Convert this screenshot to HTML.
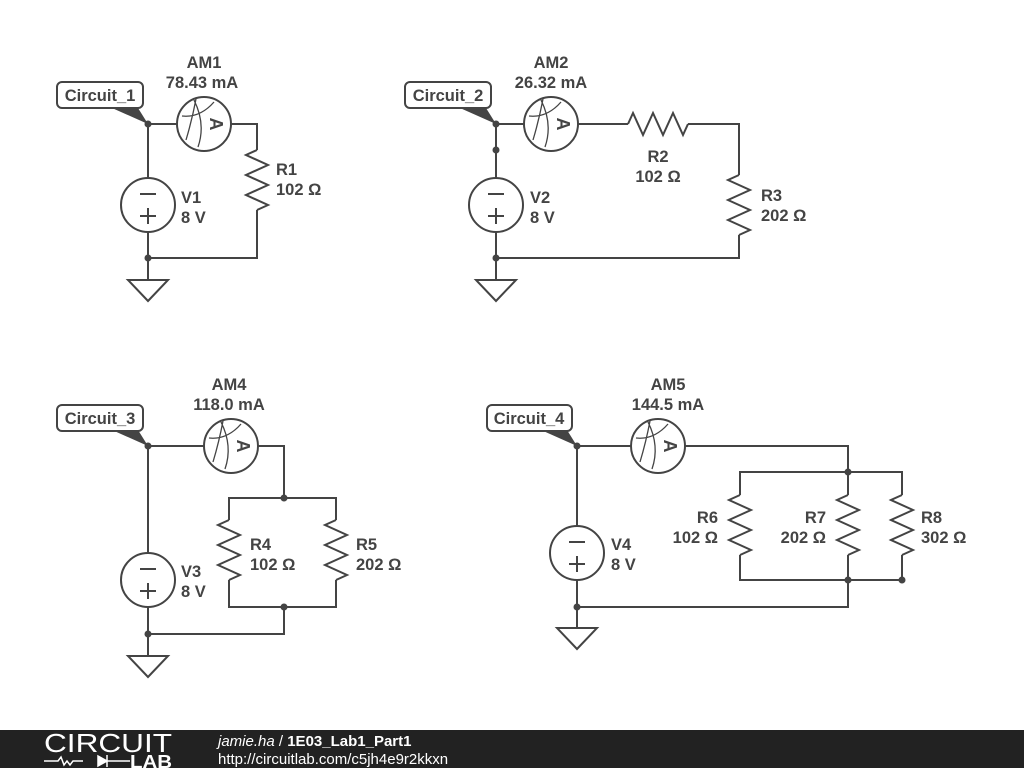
<!DOCTYPE html>
<html><head><meta charset="utf-8"><style>
html,body{margin:0;padding:0;background:#fff;width:1024px;height:768px;overflow:hidden}
svg{display:block}
text{font-family:"Liberation Sans",Arial,sans-serif;font-weight:bold;font-size:16.5px;fill:#444}
</style></head><body>
<svg width="1024" height="768" viewBox="0 0 1024 768" xmlns="http://www.w3.org/2000/svg">
<defs>
<g id="am">
<circle r="27" fill="#fff" stroke="#444" stroke-width="2"/>
<path d="M-22 -8 Q-4 -6 10 -22 M-18 16 Q-12 -4 -8 -25 M-6 23 Q2 0 -10 -24" fill="none" stroke="#444" stroke-width="1.3"/>
<text x="0" y="0" transform="translate(12,0) rotate(90)" text-anchor="middle" dy="6" style="font-size:18px">A</text>
</g>
<g id="vs">
<circle r="27" fill="#fff" stroke="#444" stroke-width="2"/>
<path d="M-8 -11 h16 M-8 11 h16 M0 3 v16" stroke="#444" stroke-width="2"/>
</g>
<path id="rv" d="M0 0 l-11 5 22 10 -22 10 22 10 -22 10 22 10 -11 5" fill="none" stroke="#444" stroke-width="2"/>
<path id="gnd" d="M-20 0 H20 L0 21 Z" fill="#fff" stroke="#444" stroke-width="2"/>
<g id="tag">
<path d="M0 0 L-36 -16 L-10 -16 Z" fill="#444"/>
</g>
</defs>
<g stroke="#444" stroke-width="2" fill="none">
<path d="M148 124 H177 M231 124 H257 V150 M257 210 V258 H148 M148 124 V178 M148 232 V280"/>
<path d="M496 124 H524 M578 124 H628 M688 124 H739 V175 M739 235 V258 H496 M496 124 V178 M496 232 V280"/>
<path d="M148 446 H204 M258 446 H284 V498 M229 520 V498 H336 V520 M229 580 V607 H336 V580 M284 607 V634 H148 M148 446 V553 M148 607 V656"/>
<path d="M577 446 H631 M685 446 H848 V472 M740 495 V472 H902 V495 M848 472 V495 M740 555 V580 H902 M848 555 V607 H577 M902 555 V580 M577 446 V526 M577 580 V628"/>
</g>
<use href="#rv" x="257" y="150"/>
<use href="#rv" x="739" y="175"/>
<path d="M628 124 l5 -11 10 22 10 -22 10 22 10 -22 10 22 5 -11" fill="none" stroke="#444" stroke-width="2"/>
<use href="#rv" x="229" y="520"/>
<use href="#rv" x="336" y="520"/>
<use href="#rv" x="740" y="495"/>
<use href="#rv" x="848" y="495"/>
<use href="#rv" x="902" y="495"/>
<use href="#am" x="204" y="124"/>
<use href="#am" x="551" y="124"/>
<use href="#am" x="231" y="446"/>
<use href="#am" x="658" y="446"/>
<use href="#vs" x="148" y="205"/>
<use href="#vs" x="496" y="205"/>
<use href="#vs" x="148" y="580"/>
<use href="#vs" x="577" y="553"/>
<use href="#gnd" x="148" y="280"/>
<use href="#gnd" x="496" y="280"/>
<use href="#gnd" x="148" y="656"/>
<use href="#gnd" x="577" y="628"/>
<g fill="#444">
<circle cx="148" cy="124" r="3.5"/><circle cx="148" cy="258" r="3.5"/>
<circle cx="496" cy="124" r="3.5"/><circle cx="496" cy="150" r="3.5"/><circle cx="496" cy="258" r="3.5"/>
<circle cx="148" cy="446" r="3.5"/><circle cx="284" cy="498" r="3.5"/><circle cx="284" cy="607" r="3.5"/><circle cx="148" cy="634" r="3.5"/>
<circle cx="577" cy="446" r="3.5"/><circle cx="848" cy="472" r="3.5"/><circle cx="848" cy="580" r="3.5"/><circle cx="902" cy="580" r="3.5"/><circle cx="577" cy="607" r="3.5"/>
</g>
<use href="#tag" x="148" y="124"/>
<use href="#tag" x="496" y="124"/>
<use href="#tag" x="148" y="446"/>
<use href="#tag" x="577" y="446"/>
<g fill="#fff" stroke="#444" stroke-width="2">
<rect x="57" y="82" width="86" height="26" rx="5"/>
<rect x="405" y="82" width="86" height="26" rx="5"/>
<rect x="57" y="405" width="86" height="26" rx="5"/>
<rect x="487" y="405" width="85" height="26" rx="5"/>
</g>
<text x="100" y="101" text-anchor="middle">Circuit_1</text>
<text x="448" y="101" text-anchor="middle">Circuit_2</text>
<text x="100" y="424" text-anchor="middle">Circuit_3</text>
<text x="529" y="424" text-anchor="middle">Circuit_4</text>
<text x="204" y="68" text-anchor="middle">AM1</text><text x="202" y="88" text-anchor="middle">78.43 mA</text>
<text x="551" y="68" text-anchor="middle">AM2</text><text x="551" y="88" text-anchor="middle">26.32 mA</text>
<text x="229" y="390" text-anchor="middle">AM4</text><text x="229" y="410" text-anchor="middle">118.0 mA</text>
<text x="668" y="390" text-anchor="middle">AM5</text><text x="668" y="410" text-anchor="middle">144.5 mA</text>
<text x="276" y="175">R1</text><text x="276" y="195">102 Ω</text>
<text x="181" y="203">V1</text><text x="181" y="223">8 V</text>
<text x="658" y="162" text-anchor="middle">R2</text><text x="658" y="182" text-anchor="middle">102 Ω</text>
<text x="761" y="201">R3</text><text x="761" y="221">202 Ω</text>
<text x="530" y="203">V2</text><text x="530" y="223">8 V</text>
<text x="250" y="550">R4</text><text x="250" y="570">102 Ω</text>
<text x="356" y="550">R5</text><text x="356" y="570">202 Ω</text>
<text x="181" y="577">V3</text><text x="181" y="597">8 V</text>
<text x="718" y="523" text-anchor="end">R6</text><text x="718" y="543" text-anchor="end">102 Ω</text>
<text x="826" y="523" text-anchor="end">R7</text><text x="826" y="543" text-anchor="end">202 Ω</text>
<text x="921" y="523">R8</text><text x="921" y="543">302 Ω</text>
<text x="611" y="550">V4</text><text x="611" y="570">8 V</text>
<rect x="0" y="730" width="1024" height="38" fill="#222"/>
<text x="44" y="752" textLength="128" lengthAdjust="spacingAndGlyphs" style="font-weight:normal;font-size:26px;fill:#fff">CIRCUIT</text>
<path d="M44 761 h14 l3 -4 3 8 3 -4 3 4 3 -4 h10 M100 761 h30" stroke="#fff" stroke-width="1.5" fill="none"/>
<path d="M98 756 v10 l9 -5 z M107 755 v12" stroke="#fff" stroke-width="1.5" fill="#fff"/>
<text x="130" y="768" textLength="42" lengthAdjust="spacingAndGlyphs" style="font-size:18px;fill:#fff">LAB</text>
<text x="218" y="746" style="font-weight:normal;font-style:italic;font-size:15px;fill:#fff">jamie.ha <tspan font-style="normal">/</tspan> <tspan font-weight="bold" font-style="normal">1E03_Lab1_Part1</tspan></text>
<text x="218" y="764" style="font-weight:normal;font-size:15px;fill:#fff">http://circuitlab.com/c5jh4e9r2kkxn</text>
</svg>
</body></html>
